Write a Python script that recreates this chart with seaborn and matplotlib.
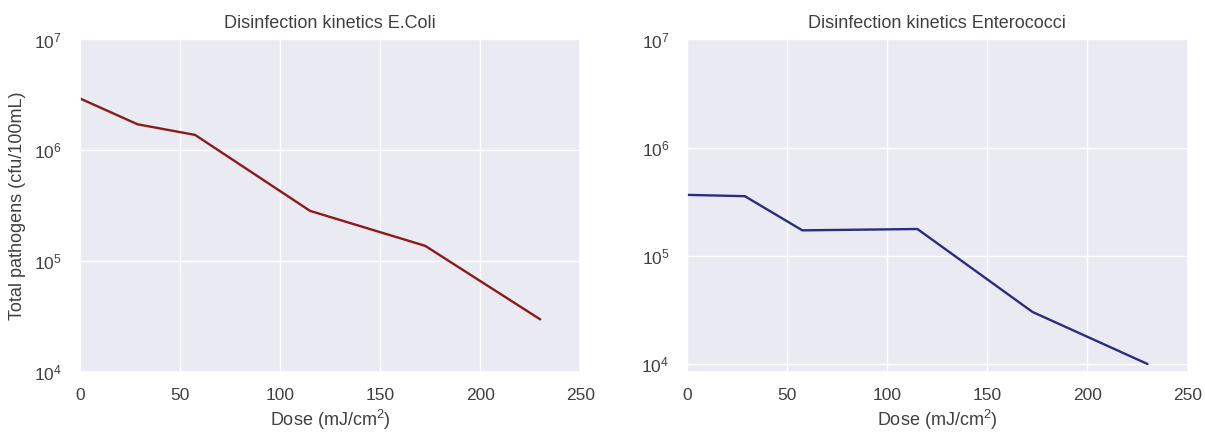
import numpy as np
import pandas as pd
import matplotlib
matplotlib.use("Agg")
import matplotlib.pyplot as plt
import seaborn as sns

dose = [0, 28.75, 57.5, 115, 172.5, 230]
ecoli = [2.94e6, 1.72e6, 1.38e6, 2.85e5, 1.38e5, 3.0e4]
entero = [3.66e5, 3.56e5, 1.72e5, 1.77e5, 3.03e4, 1.0e4]
xticks = [0, 50, 100, 150, 200, 250]
titles = ["Disinfection kinetics E.Coli", "Disinfection kinetics Enterococci"]

sns.set_theme(style="darkgrid")
plt.rcParams['font.family'] = ['Liberation Sans', 'DejaVu Sans']
plt.rcParams['mathtext.fontset'] = 'custom'
plt.rcParams['mathtext.rm'] = 'Liberation Sans'
plt.rcParams['mathtext.it'] = 'Liberation Sans:italic'
plt.rcParams['mathtext.bf'] = 'Liberation Sans:bold'
text_color = '#404040'
plt.rcParams['text.color'] = text_color
plt.rcParams['axes.labelcolor'] = text_color
plt.rcParams['xtick.color'] = text_color
plt.rcParams['ytick.color'] = text_color

df1 = pd.DataFrame({"dose": dose, "count": ecoli})
df2 = pd.DataFrame({"dose": dose, "count": entero})

fig, axes = plt.subplots(1, 2, figsize=(12.05, 4.32), dpi=100)
fig.subplots_adjust(left=0.0664, right=0.9855, top=0.9086, bottom=0.1382, wspace=0.214)

sns.lineplot(data=df1, x="dose", y="count", ax=axes[0], color="#8b1a1a", linewidth=1.7)
sns.lineplot(data=df2, x="dose", y="count", ax=axes[1], color="#2c2c80", linewidth=1.7)

for ax, t in zip(axes, titles):
    ax.set_yscale("log")
    ax.set_xlim(0, 250)
    ax.set_xticks(xticks)
    ax.set_title(t, fontsize=13, color=text_color, pad=8)
    ax.set_xlabel("Dose (mJ/cm$^2$)", fontsize=13, labelpad=4)
    ax.tick_params(axis="x", labelsize=12.5, pad=5)
    ax.tick_params(axis="y", labelsize=12.5, pad=7)
    ax.minorticks_off()

axes[0].set_ylim(1e4, 1e7)
axes[1].set_ylim(8.38e3, 1e7)
axes[1].set_yticks([1e4, 1e5, 1e6, 1e7])
axes[0].set_yticks([1e4, 1e5, 1e6, 1e7])
axes[0].set_ylabel("Total pathogens (cfu/100mL)", fontsize=13, labelpad=6)
axes[1].set_ylabel("")

fig.savefig("out.png", dpi=100)
